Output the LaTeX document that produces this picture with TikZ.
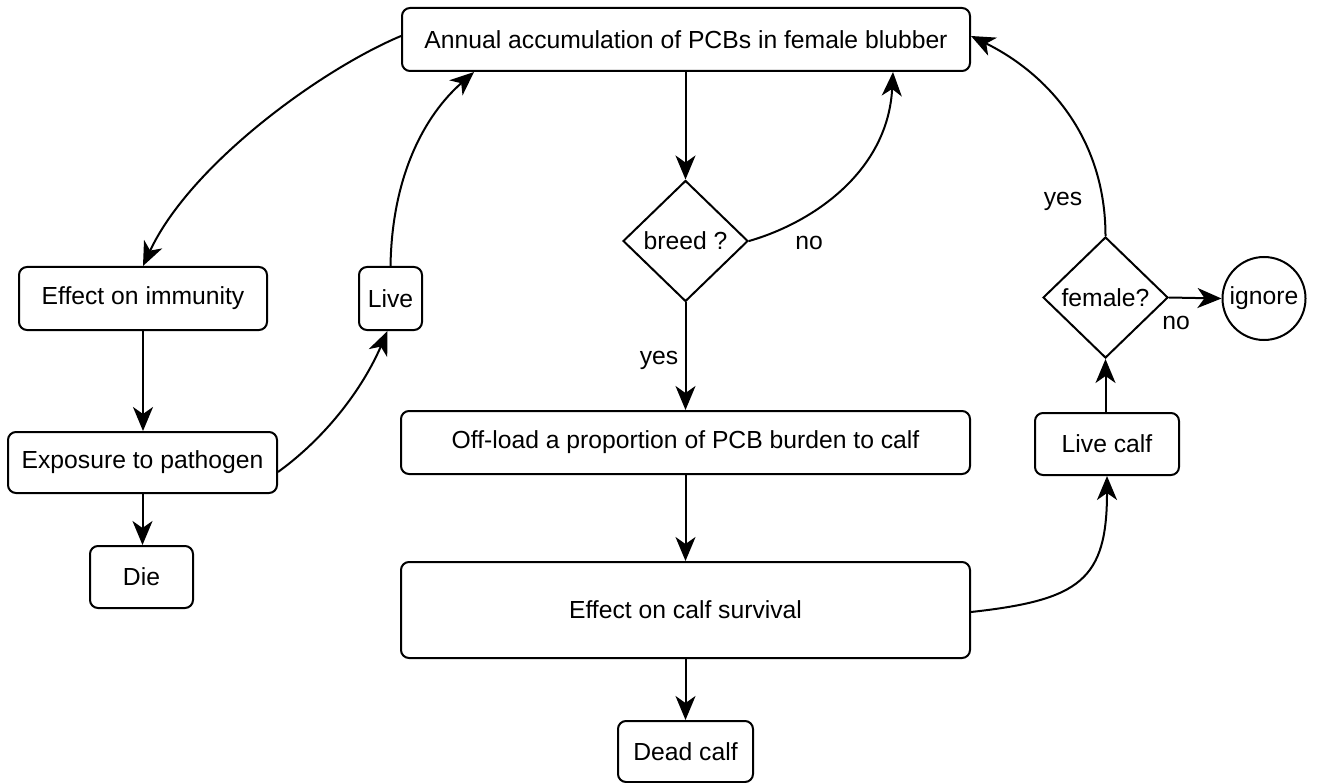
\documentclass[tikz,border=0pt]{standalone}
\usepackage{fontspec}
\setmainfont{Liberation Sans}
\usetikzlibrary{shapes.geometric,arrows.meta}
\begin{document}
\begin{tikzpicture}[x=1pt,y=-1pt,
  every node/.style={font=\fontsize{24.7}{29}\selectfont},
  box/.style={draw,line width=2pt,rounded corners=8pt,inner sep=0pt,align=center},
  dec/.style={draw,line width=2pt,shape=diamond,inner sep=0pt,minimum width=125pt,minimum height=121pt},
  term/.style={draw,line width=2pt,circle,inner sep=0pt,minimum size=83pt},
  lbl/.style={inner sep=0pt},
  conn/.style={line width=2pt,-{Stealth[length=24pt,width=20pt,inset=7pt]}}]
\useasboundingbox (0,0) rectangle (1321,783);
\node[box,minimum width=568pt,minimum height=63pt] (top) at (686,39.5) {Annual accumulation of PCBs in female blubber};
\node[dec] (breed) at (685.5,241) {breed ?};
\node[box,minimum width=569pt,minimum height=63pt] (off) at (685.5,442.5) {Off-load a proportion of PCB burden to calf};
\node[box,minimum width=569pt,minimum height=96pt] (surv) at (685.5,610) {Effect on calf survival};
\node[box,minimum width=135pt,minimum height=61pt] (dead) at (685.5,751.5) {Dead calf};
\node[box,minimum width=248pt,minimum height=63pt] (imm) at (143,298.5) {Effect on immunity};
\node[box,minimum width=63pt,minimum height=63pt] (live) at (390.5,298.5) {Live};
\node[box,minimum width=269pt,minimum height=61pt] (exp) at (142.5,462.5) {Exposure to pathogen};
\node[box,minimum width=103pt,minimum height=62pt] (die) at (141.5,577) {Die};
\node[box,minimum width=144pt,minimum height=62pt] (lcalf) at (1107,444) {Live calf};
\node[dec] (fem) at (1105.5,297.5) {female?};
\node[term] (ign) at (1264,298.5) {ignore};
\node[lbl] (no1) at (809,243) {no};
\node[lbl] (yes1) at (659,360) {yes};
\node[lbl] (no2) at (1176,323) {no};
\node[lbl] (yes2) at (1063,201) {yes};
% straight connectors
\draw[conn] (top.south -| breed.north) -- (breed.north);
\draw[conn] (breed.south) -- (off.north -| breed.south);
\draw[conn] (off.south) -- (surv.north);
\draw[conn] (surv.south) -- (dead.north);
\draw[conn] (imm.south) -- (exp.north -| imm.south);
\draw[conn] (exp.south) -- (die.north -| exp.south);
\draw[conn] (lcalf.north -| fem.south) -- (fem.south);
\draw[conn] (fem.east) -- (ign.west);
% curved connectors
\draw[conn] ([yshift=3.5pt]top.west) .. controls (320,70) and (190,165) .. (imm.north);
\draw[conn] (live.north) .. controls (392,175) and (425,115) .. ([xshift=73pt]top.south west);
\draw[conn] ([yshift=-9.5pt]exp.east) .. controls (325,438) and (362,390) .. ([xshift=-3pt]live.south);
\draw[conn] (breed.east) .. controls (815,222) and (888,170) .. ([xshift=-78pt]top.south east);
\draw[conn] ([yshift=-2pt]surv.east) .. controls (1080,600) and (1107,580) .. (lcalf.south);
\draw[conn] (fem.north) .. controls (1105.5,140) and (1050,75) .. ([yshift=3.5pt]top.east);
\end{tikzpicture}
\end{document}
